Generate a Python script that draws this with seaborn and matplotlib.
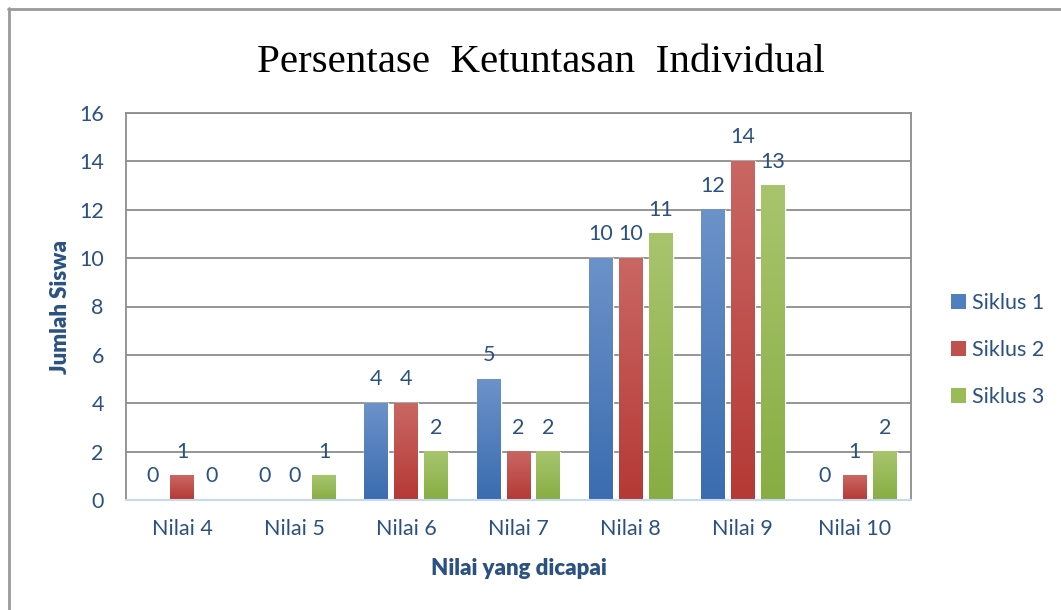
import numpy as np
import pandas as pd
import matplotlib
matplotlib.use("Agg")
import matplotlib.pyplot as plt
import seaborn as sns
from matplotlib.colors import LinearSegmentedColormap
from matplotlib.patches import Patch
from matplotlib.lines import Line2D

# === DATA ===
categories = ["Nilai 4", "Nilai 5", "Nilai 6", "Nilai 7", "Nilai 8", "Nilai 9", "Nilai 10"]
series_names = ["Siklus 1", "Siklus 2", "Siklus 3"]
siklus1 = [0, 0, 4, 5, 10, 12, 0]
siklus2 = [1, 0, 4, 2, 10, 14, 1]
siklus3 = [0, 1, 2, 2, 11, 13, 2]
y_ticks = [0, 2, 4, 6, 8, 10, 12, 14, 16]

# excel-ish gradient: (bottom, top) per series
grad_colors = {
    "Siklus 1": ("#3A6CAF", "#6C92C9"),
    "Siklus 2": ("#B53935", "#C96763"),
    "Siklus 3": ("#88AD43", "#A8C56E"),
}
mid_colors = {"Siklus 1": "#4F7FBF", "Siklus 2": "#C0504D", "Siklus 3": "#9BBB59"}
text_col = "#2B5183"

df = pd.DataFrame({
    "Nilai": categories * 3,
    "Siklus": [s for s in series_names for _ in categories],
    "Jumlah": siklus1 + siklus2 + siklus3,
})

sns.set_style("white")
plt.rcParams["font.family"] = ["Lato", "DejaVu Sans"]

fig = plt.figure(figsize=(10.61, 6.10), dpi=100)
ax = fig.add_axes([126 / 1061, 1 - 500 / 610, (911 - 126) / 1061, (500 - 113) / 610])

sns.barplot(data=df, x="Nilai", y="Jumlah", hue="Siklus", order=categories,
            hue_order=series_names, palette=mid_colors, width=0.8, gap=0.2,
            legend=False, ax=ax, zorder=2)

# gradient fill on each bar + value labels
grad = np.linspace(0, 1, 256).reshape(-1, 1)
for name, cont in zip(series_names, ax.containers):
    cmap = LinearSegmentedColormap.from_list(name, list(grad_colors[name]))
    for p in cont.patches:
        h = p.get_height()
        if h > 0:
            x0 = p.get_x()
            ax.imshow(grad, extent=(x0, x0 + p.get_width(), 0, h), origin="lower",
                      aspect="auto", cmap=cmap, zorder=2.5)
    ax.bar_label(cont, labels=[f"{v:g}" for v in cont.datavalues], padding=10,
                 fontsize=15.5, color=text_col)

ax.set_xlim(-0.5, len(categories) - 0.5)
ax.set_ylim(0, 16)
ax.set_yticks(y_ticks)
ax.yaxis.grid(True, color="#8C8C8C", linewidth=1.3, zorder=0)
ax.set_axisbelow(True)
ax.tick_params(axis="both", length=0, labelsize=15.5, labelcolor=text_col)
ax.tick_params(axis="y", pad=16)
ax.tick_params(axis="x", pad=14)

for side in ["left", "right", "top"]:
    ax.spines[side].set_color("#8C8C8C")
    ax.spines[side].set_linewidth(1.3)
ax.spines["bottom"].set_color("#C6D9F1")
ax.spines["bottom"].set_linewidth(1.5)

ax.set_ylabel("Jumlah Siswa", fontsize=16, fontweight="heavy", color=text_col)
ax.set_xlabel("Nilai yang dicapai", fontsize=16, fontweight="heavy", color=text_col)
ax.yaxis.set_label_coords(-0.070, 0.5)
ax.xaxis.set_label_coords(0.5, -0.150)

handles = [Patch(facecolor=mid_colors[n], edgecolor="none") for n in series_names]
ax.legend(handles, series_names, loc="center left", bbox_to_anchor=(940 / 1061, 1 - 350 / 610),
          bbox_transform=fig.transFigure, frameon=False, fontsize=15.5, labelcolor=text_col,
          handlelength=0.7, handleheight=0.7, handletextpad=0.3, labelspacing=1.25,
          borderpad=0)

fig.text(541 / 1061, 1 - 72 / 610, "Persentase  Ketuntasan  Individual", ha="center",
         va="baseline", fontsize=29.5, family=["Liberation Serif", "DejaVu Serif"], color="black")

# outer chart frame (top and left edges)
fig.add_artist(Line2D([8 / 1061, 1], [1 - 9 / 610] * 2, transform=fig.transFigure,
                      color="#9A9A9A", linewidth=2))
fig.add_artist(Line2D([9 / 1061] * 2, [0, 1 - 8 / 610], transform=fig.transFigure,
                      color="#9A9A9A", linewidth=2))

fig.savefig("out.png", dpi=100)
